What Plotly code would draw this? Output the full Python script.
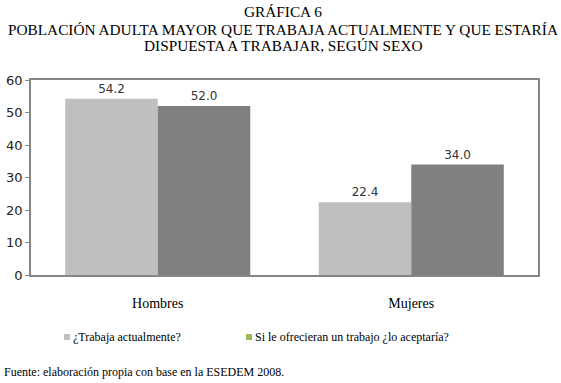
import plotly.graph_objects as go

categories = ["Hombres", "Mujeres"]
trabaja = [54.2, 22.4]
aceptaria = [52.0, 34.0]
series_names = ["¿Trabaja actualmente?", "Si le ofrecieran un trabajo ¿lo aceptaría?"]
title_lines = ["GRÁFICA 6",
               "POBLACIÓN ADULTA MAYOR QUE TRABAJA ACTUALMENTE Y QUE ESTARÍA",
               "DISPUESTA A TRABAJAR, SEGÚN SEXO"]
source = "Fuente: elaboración propia con base en la ESEDEM 2008."

serif = "Liberation Serif"
sans = "DejaVu Sans"

fig = go.Figure()
fig.add_trace(go.Bar(x=categories, y=trabaja, name=series_names[0],
                     marker=dict(color="#BFBFBF", line=dict(width=0)),
                     text=[f"{v:.1f}" for v in trabaja], textposition="outside",
                     textfont=dict(family=sans, size=12, color="#333333"),
                     cliponaxis=False, showlegend=False))
fig.add_trace(go.Bar(x=categories, y=aceptaria, name=series_names[1],
                     marker=dict(color="#808080", line=dict(width=0)),
                     text=[f"{v:.1f}" for v in aceptaria], textposition="outside",
                     textfont=dict(family=sans, size=12, color="#333333"),
                     cliponaxis=False, showlegend=False))

W, H = 561, 383
ml, mr, mt, mb = 31, 23, 80, 108
pw, ph = W - ml - mr, H - mt - mb

def fx(x):
    return (x - ml) / pw

def fy(y):
    return (H - mb - y) / ph

fig.update_layout(
    width=W, height=H,
    margin=dict(l=ml, r=mr, t=mt, b=mb, autoexpand=False),
    paper_bgcolor="white", plot_bgcolor="white",
    barmode="group", bargap=0.27, bargroupgap=0,
    showlegend=False,
    font=dict(family=serif, color="#000000"),
)
fig.update_yaxes(range=[0, 60], dtick=10, showgrid=False, zeroline=False,
                 showline=True, linecolor="#868686", linewidth=1.5, mirror=True,
                 ticks="outside", ticklen=4, tickcolor="#868686", automargin=False,
                 tickfont=dict(family=sans, size=13, color="#222222"))
fig.update_xaxes(showgrid=False, showline=True, linecolor="#868686", linewidth=1.5,
                 mirror=True, ticks="", ticklabelstandoff=14, automargin=False,
                 tickfont=dict(family=serif, size=14, color="#000000"))

for t, y in zip(title_lines, [12, 29, 46]):
    fig.add_annotation(text=t, xref="paper", yref="paper",
                       x=fx(283), y=fy(y), xanchor="center", yanchor="middle",
                       showarrow=False,
                       font=dict(family=serif, size=15.3, color="#000000"))

leg = [(series_names[0], "#BFBFBF", 64), (series_names[1], "#9BBB59", 246)]
for name, col, x0 in leg:
    fig.add_shape(type="rect", xref="paper", yref="paper",
                  x0=fx(x0), x1=fx(x0 + 6), y0=fy(340), y1=fy(334),
                  fillcolor=col, line=dict(width=0))
    fig.add_annotation(text=name, xref="paper", yref="paper", x=fx(x0 + 7), y=fy(337),
                       xanchor="left", yanchor="middle", showarrow=False,
                       font=dict(family=serif, size=12, color="#000000"))
fig.add_annotation(text=source, xref="paper", yref="paper", x=fx(2), y=fy(372),
                   xanchor="left", yanchor="middle", showarrow=False,
                   font=dict(family=serif, size=12, color="#000000"))

fig.write_html("out.html", config={"displayModeBar": False},
               post_script="document.body.style.margin='0';document.body.style.padding='0';")
